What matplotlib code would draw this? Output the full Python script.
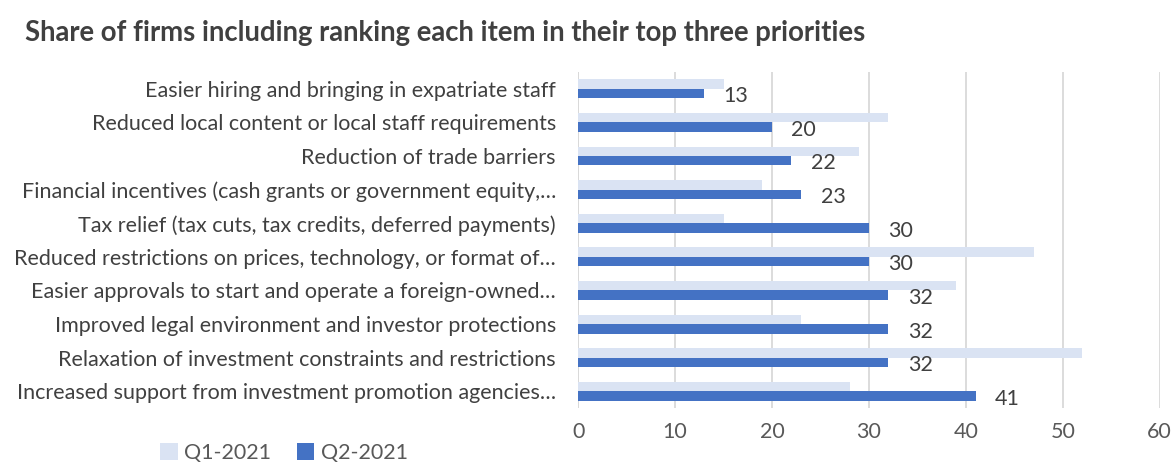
import matplotlib.pyplot as plt
import numpy as np

plt.rcParams['font.family'] = ['Lato', 'DejaVu Sans']

# survey items, top to bottom
items = [
    "Easier hiring and bringing in expatriate staff",
    "Reduced local content or local staff requirements",
    "Reduction of trade barriers",
    "Financial incentives (cash grants or government equity,…",
    "Tax relief (tax cuts, tax credits, deferred payments)",
    "Reduced restrictions on prices, technology, or format of…",
    "Easier approvals to start and operate a foreign-owned…",
    "Improved legal environment and investor protections",
    "Relaxation of investment constraints and restrictions",
    "Increased support from investment promotion agencies…",
]
q1_2021 = [15, 32, 29, 19, 15, 47, 39, 23, 52, 28]
q2_2021 = [13, 20, 22, 23, 30, 30, 32, 32, 32, 41]
x_ticks = [0, 10, 20, 30, 40, 50, 60]

c_q1 = '#DAE3F3'
c_q2 = '#4472C4'
txt = '#404040'
fs = 15.5

fig = plt.figure(figsize=(11.75, 4.67), dpi=100)
ax = fig.add_axes([0.492, 0.126, 0.495, 0.72])

y = np.arange(len(items))
h = 0.28
ax.barh(y - h / 2, q1_2021, height=h, color=c_q1, label='Q1-2021', zorder=2)
ax.barh(y + h / 2, q2_2021, height=h, color=c_q2, label='Q2-2021', zorder=2)

for yi, v in zip(y, q2_2021):
    ax.annotate(str(v), (v, yi + h / 2), xytext=(14, -2), textcoords='offset points',
                ha='left', va='center', fontsize=fs, color=txt)

ax.set_xlim(0, 60)
ax.set_ylim(len(items) - 0.5, -0.5)
ax.set_xticks(x_ticks)
ax.set_yticks(y)
ax.set_yticklabels(items)
ax.tick_params(axis='y', length=0, pad=16, labelsize=fs, labelcolor=txt)
ax.tick_params(axis='x', length=0, pad=10, labelsize=fs, labelcolor='#595959')
ax.grid(axis='x', color='#D9D9D9', lw=1.3, zorder=0)
for s in ax.spines.values():
    s.set_visible(False)
ax.axvline(0, color='#D9D9D9', lw=1.3, zorder=1)

fig.text(0.021, 0.93, "Share of firms including ranking each item in their top three priorities",
         fontsize=19.8, fontweight='bold', color=txt, va='center')

fig.legend(loc='center left', bbox_to_anchor=(0.12, 0.03), ncol=2, frameon=False,
           fontsize=fs, handlelength=0.8, handleheight=0.8, handletextpad=0.3,
           columnspacing=1.2, labelcolor='#595959')

fig.savefig('out.png', dpi=100)
